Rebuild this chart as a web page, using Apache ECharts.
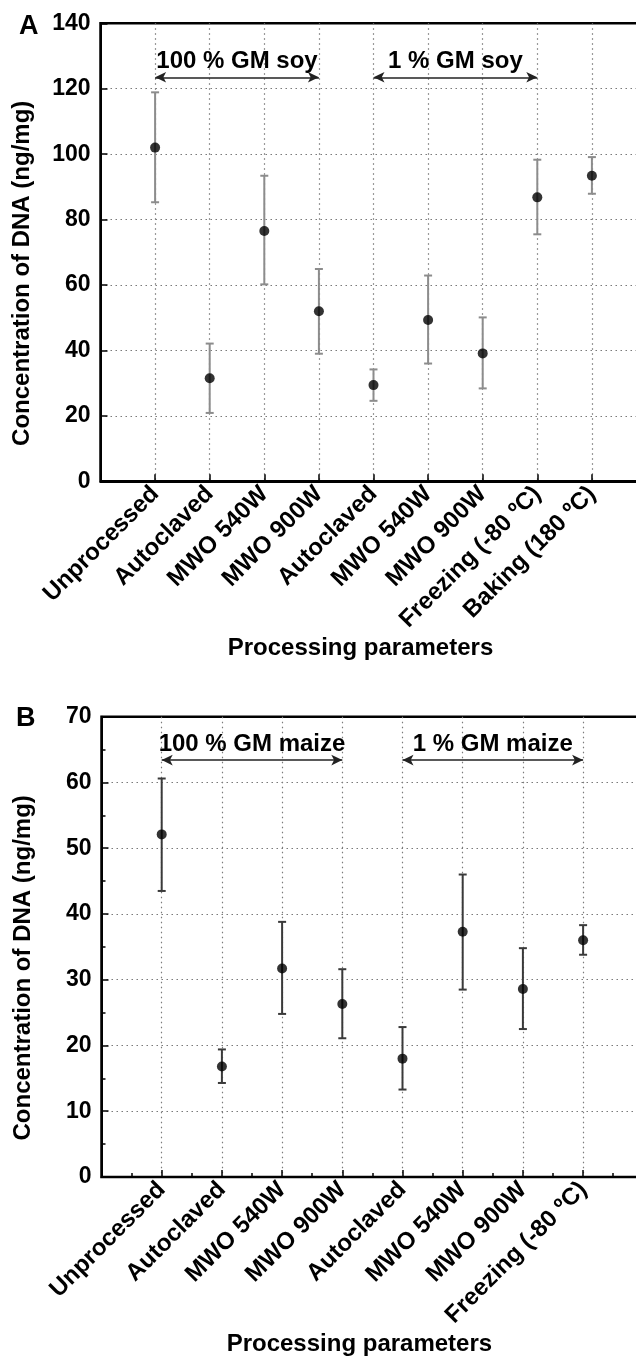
<!DOCTYPE html>
<html><head><meta charset="utf-8">
<script src="https://cdn.jsdelivr.net/npm/echarts@6/dist/echarts.min.js"></script>
<style>html,body{margin:0;padding:0;background:#fff}#c{width:636px;height:1358px}</style>
</head><body><div id="c"></div>
<script>
// ---- Data ----
const categoriesA = ['Unprocessed','Autoclaved','MWO 540W','MWO 900W','Autoclaved','MWO 540W','MWO 900W','Freezing (-80 ºC)','Baking (180 ºC)'];
const meanA = [102.0, 31.5, 76.5, 52.0, 29.4, 49.3, 39.1, 86.8, 93.4];
const lowA  = [ 85.3, 20.9, 60.2, 39.0, 24.6, 36.0, 28.4, 75.5, 87.9];
const highA = [118.9, 42.1, 93.4, 64.9, 34.2, 62.9, 50.1, 98.3, 99.1];

const categoriesB = ['Unprocessed','Autoclaved','MWO 540W','MWO 900W','Autoclaved','MWO 540W','MWO 900W','Freezing (-80 ºC)'];
const meanB = [52.1, 16.8, 31.7, 26.3, 18.0, 37.3, 28.6, 36.0];
const lowB  = [43.5, 14.3, 24.8, 21.1, 13.3, 28.5, 22.5, 33.8];
const highB = [60.6, 19.4, 38.8, 31.6, 22.8, 46.0, 34.8, 38.3];

const yTicksA = [0, 20, 40, 60, 80, 100, 120, 140];
const yTicksB = [0, 10, 20, 30, 40, 50, 60, 70];

const groupLabelsA = ['100 % GM soy', '1 % GM soy'];
const groupLabelsB = ['100 % GM maize', '1 % GM maize'];
const groupSpans = [[1, 4], [5, 8]];   // category index ranges (1-based)
const groupLevelA = 123.5;             // value level of the arrows
const groupLevelB = 63.4;

// ---- Helpers ----
const FONT = "'Liberation Sans', Arial, Helvetica, sans-serif";
function pts(mean){ return mean.map((v,i)=>[i+1, v]); }
function errs(lo, hi){ return lo.map((v,i)=>[i+1, v, hi[i]]); }
function errRender(color){
  return function(params, api){
    const x = api.value(0), lo = api.value(1), hi = api.value(2);
    const p1 = api.coord([x, lo]), p2 = api.coord([x, hi]);
    const w = 4;
    const style = {stroke: color, lineWidth: 2};
    return {type:'group', children:[
      {type:'line', shape:{x1:p1[0], y1:p1[1], x2:p2[0], y2:p2[1]}, style: style},
      {type:'line', shape:{x1:p1[0]-w, y1:p1[1], x2:p1[0]+w, y2:p1[1]}, style: style},
      {type:'line', shape:{x1:p2[0]-w, y1:p2[1], x2:p2[0]+w, y2:p2[1]}, style: style}
    ]};
  };
}
function groupLines(labels, level){
  return labels.map((lab, k)=>[
    {coord:[groupSpans[k][0], level], label:{formatter: lab}},
    {coord:[groupSpans[k][1], level]}
  ]);
}
const gridLineStyle = {color:'#7a7a7a', type:[1.5, 3.5], width:1.2};
function xAxisOf(gridIndex, cats, max, minor){
  return {
    type:'value', gridIndex: gridIndex, min:0, max:max, interval:1,
    axisLine:{show:true, onZero:false, lineStyle:{color:'#000', width:2}},
    axisTick:{show:true, inside:true, length:7, lineStyle:{color:'#000', width:1.5}},
    minorTick:{show:minor, splitNumber:2, length:4, lineStyle:{color:'#000', width:1.5}},
    minorSplitLine:{show:false},
    splitLine:{show:true, showMinLine:false, showMaxLine:false, lineStyle:gridLineStyle},
    axisLabel:{
      show:true, rotate:45, margin:9, fontSize:24, fontWeight:'bold', color:'#000', fontFamily:FONT,
      formatter: v => cats[v-1] || ''
    },
    name:'Processing parameters', nameLocation:'middle', nameGap:155,
    nameTextStyle:{fontSize:24, fontWeight:'bold', color:'#000', fontFamily:FONT, padding:[0,26,0,0]}
  };
}
function yAxisOf(gridIndex, ticks, minor){
  return {
    type:'value', gridIndex: gridIndex, min:ticks[0], max:ticks[ticks.length-1], interval:ticks[1]-ticks[0],
    axisLine:{show:true, lineStyle:{color:'#000', width:2}},
    axisTick:{show:true, inside:true, length:7, lineStyle:{color:'#000', width:1.5}},
    minorTick:{show:minor, splitNumber:2, length:4, lineStyle:{color:'#000', width:1.5}},
    splitLine:{show:true, showMinLine:false, showMaxLine:false, lineStyle:gridLineStyle},
    axisLabel:{show:true, margin:10, fontSize:23, fontWeight:'bold', color:'#000', fontFamily:FONT,
      formatter: v => ticks.indexOf(v) >= 0 ? String(v) : ''},
    name:'Concentration of DNA (ng/mg)', nameLocation:'middle', nameGap:66, nameRotate:90,
    nameTextStyle:{fontSize:24, fontWeight:'bold', color:'#000', fontFamily:FONT, padding:[0,42,0,0]}
  };
}
const markLineCommon = {
  silent:true, animation:false, symbol:['arrow','arrow'], symbolSize:[8,11],
  lineStyle:{color:'#222', width:1.5, type:'solid'},
  label:{show:true, position:'middle', distance:4, fontSize:24, fontWeight:'bold', color:'#000', fontFamily:FONT}
};

const chart = echarts.init(document.getElementById('c'), null, {renderer:'canvas'});
chart.setOption({
  animation:false,
  backgroundColor:'#fff',
  title:[
    {text:'A', left:14, top:8, textStyle:{fontSize:27, fontWeight:'bold', color:'#000', fontFamily:FONT}},
    {text:'B', left:11, top:700, textStyle:{fontSize:27, fontWeight:'bold', color:'#000', fontFamily:FONT}}
  ],
  grid:[
    {left:100.5, top:23.3, width:546, height:458, show:true, borderColor:'#000', borderWidth:2.5, containLabel:false, outerBoundsMode:'none'},
    {left:101.5, top:716.7, width:541.8, height:460.3, show:true, borderColor:'#000', borderWidth:2.5, containLabel:false, outerBoundsMode:'none'}
  ],
  xAxis:[ xAxisOf(0, categoriesA, 10, false), xAxisOf(1, categoriesB, 9, true) ],
  yAxis:[ yAxisOf(0, yTicksA, false), yAxisOf(1, yTicksB, true) ],
  series:[
    {type:'custom', xAxisIndex:0, yAxisIndex:0, renderItem: errRender('#8c8c8c'), data: errs(lowA, highA), z:2,
     encode:{x:0, y:[1,2]}},
    {type:'scatter', xAxisIndex:0, yAxisIndex:0, data: pts(meanA), symbol:'circle', symbolSize:10,
     itemStyle:{color:'#000'}, z:3,
     markLine: Object.assign({data: groupLines(groupLabelsA, groupLevelA)}, markLineCommon)},
    {type:'custom', xAxisIndex:1, yAxisIndex:1, renderItem: errRender('#3a3a3a'), data: errs(lowB, highB), z:2,
     encode:{x:0, y:[1,2]}},
    {type:'scatter', xAxisIndex:1, yAxisIndex:1, data: pts(meanB), symbol:'circle', symbolSize:10,
     itemStyle:{color:'#000'}, z:3,
     markLine: Object.assign({data: groupLines(groupLabelsB, groupLevelB)}, markLineCommon)}
  ]
});
</script>
</body></html>
